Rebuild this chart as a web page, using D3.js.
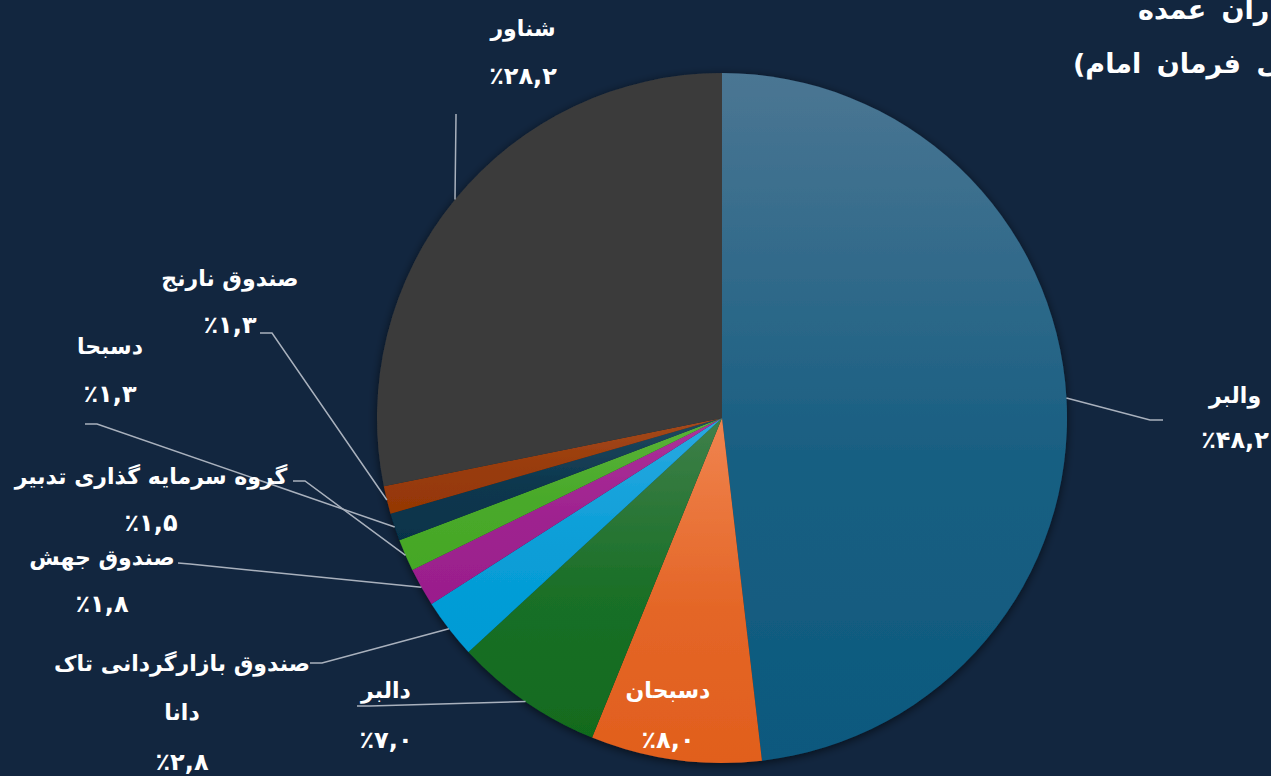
<!DOCTYPE html>
<html>
<head>
<meta charset="utf-8">
<script src="https://cdn.jsdelivr.net/npm/d3@7"></script>
<style>
  html, body { margin: 0; padding: 0; background: #12263f; overflow: hidden; }
  text { font-family: "DejaVu Sans", sans-serif; fill: #ffffff; font-weight: bold; }
</style>
</head>
<body>
<div id="chart"></div>
<script>
// shareholders, clockwise from 12 o'clock
var names = ["والبر", "دسبحان", "دالبر", "صندوق بازارگردانی تاک دانا", "صندوق جهش",
  "گروه سرمایه گذاری تدبیر", "دسبحا", "صندوق نارنج", "شناور"];
var shares = [48.2, 8.0, 7.0, 2.8, 1.8, 1.5, 1.3, 1.3, 28.2];
var colorsTop = ["#4b7693", "#f0844f", "#3f804a", "#2ba9e1", "#ad3299", "#5ab338", "#22495f", "#a54a1d", "#3b3b3b"];
var colorsBottom = ["#0c597e", "#e15f1d", "#116b1e", "#009bd5", "#9a1e8c", "#45a726", "#06334a", "#953705", "#3b3b3b"];
var titleLines = ["ترکیب سهامداران عمده", "(ستاد اجرایی فرمان امام)"];

var svgWidth = 1271;
var svgHeight = 776;
var cx = 722, cy = 418, radius = 345;

// label placement (label centre, line rows, leader start + elbow)
var labelLayout = [
  { x: 1235, rows: [395, 440], p0: [1163, 420], p1: [1150, 420] },
  { x: 668, rows: [690, 740] },
  { x: 386, rows: [690, 740], p0: [357, 706], p1: [370, 706] },
  { x: 182, rows: [663, 712, 762], p0: [310, 663], p1: [322, 663], wrap: true },
  { x: 102, rows: [557, 604], p0: [178, 563], p1: [190, 564] },
  { x: 151, rows: [476, 523], p0: [293, 481], p1: [305, 481] },
  { x: 110, rows: [346, 394], p0: [85, 424], p1: [97, 424] },
  { x: 230, rows: [278, 325], p0: [260, 333], p1: [272, 333] },
  { x: 523, rows: [28, 76], p0: [456, 114], p1: [456, 116] }
];

function faDigits(v) {
  var fa = "۰۱۲۳۴۵۶۷۸۹";
  return "٪" + v.toFixed(1).replace(/\d/g, function (c) { return fa[+c]; }).replace(".", ",");
}

var data = names.map(function (n, i) { return { name: n, value: shares[i], i: i }; });

var svg = d3.select("#chart").append("svg")
  .attr("width", svgWidth)
  .attr("height", svgHeight);

var defs = svg.append("defs");

data.forEach(function (d, i) {
  var g = defs.append("linearGradient")
    .attr("id", "grad" + i)
    .attr("x1", 0).attr("y1", 0).attr("x2", 0).attr("y2", 1);
  g.append("stop").attr("offset", "0%").attr("stop-color", colorsTop[i]);
  g.append("stop").attr("offset", "55%").attr("stop-color", d3.interpolateRgb(colorsTop[i], colorsBottom[i])(0.8));
  g.append("stop").attr("offset", "100%").attr("stop-color", colorsBottom[i]);
});

var shadow = defs.append("filter").attr("id", "shadow")
  .attr("x", "-10%").attr("y", "-10%").attr("width", "120%").attr("height", "120%");
shadow.append("feDropShadow")
  .attr("dx", 0).attr("dy", 2).attr("stdDeviation", 5)
  .attr("flood-color", "#000").attr("flood-opacity", 0.6);

var pie = d3.pie().sort(null).value(function (d) { return d.value; });
var arc = d3.arc().innerRadius(0).outerRadius(radius);
var arcs = pie(data);

var pieGroup = svg.append("g")
  .attr("transform", "translate(" + cx + "," + cy + ")")
  .attr("filter", "url(#shadow)");

pieGroup.selectAll("path")
  .data(arcs)
  .enter()
  .append("path")
  .attr("d", arc)
  .attr("fill", function (d) { return "url(#grad" + d.data.i + ")"; });

// leader lines
var line = d3.line();
svg.append("g").selectAll("path")
  .data(arcs.filter(function (d) { return labelLayout[d.data.i].p0; }))
  .enter()
  .append("path")
  .attr("d", function (d) {
    var L = labelLayout[d.data.i];
    var mid = (d.startAngle + d.endAngle) / 2;
    var edge = [cx + radius * Math.sin(mid), cy - radius * Math.cos(mid)];
    return line([L.p0, L.p1, edge]);
  })
  .attr("fill", "none")
  .attr("stroke", "#a9b1bd")
  .attr("stroke-width", 1.5);

// labels
var labels = svg.append("g");
data.forEach(function (d, i) {
  var L = labelLayout[i];
  var lines;
  if (L.wrap) {
    var cut = d.name.lastIndexOf(" ");
    lines = [d.name.slice(0, cut), d.name.slice(cut + 1)];
  } else {
    lines = [d.name];
  }
  lines.push(faDigits(d.value));
  lines.forEach(function (t, k) {
    var isPct = k === lines.length - 1;
    labels.append("text")
      .attr("x", L.x)
      .attr("y", L.rows[k])
      .attr("direction", "rtl")
      .attr("text-anchor", "middle")
      .attr("dominant-baseline", "central")
      .style("font-size", isPct ? "24px" : "22px")
      .text(t);
  });
});

// title, clipped by the right edge
var titleX = [1138, 1073];
var titleY = [19, 73];
titleLines.forEach(function (t, k) {
  svg.append("text")
    .attr("x", titleX[k])
    .attr("y", titleY[k])
    .attr("direction", "rtl")
    .attr("text-anchor", "end")
    .style("font-size", "27px")
    .style("letter-spacing", "3px")
    .style("word-spacing", "6px")
    .text(t);
});
</script>
</body>
</html>
